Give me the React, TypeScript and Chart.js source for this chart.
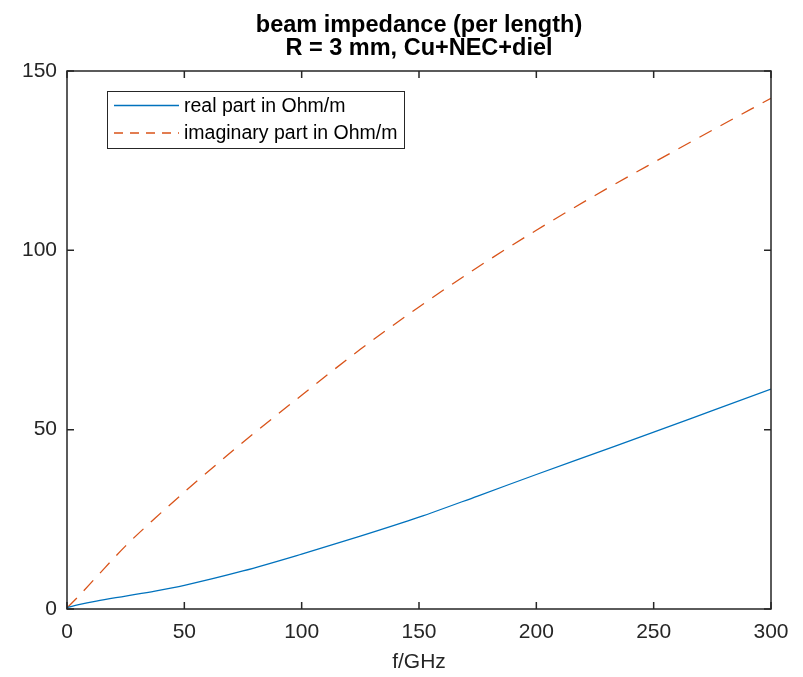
import React, { useEffect, useRef } from "react";
import { Chart, registerables } from "chart.js";

Chart.register(...registerables);

const freqGHz = [0, 5, 12.5, 25, 37.5, 50, 75, 100, 125, 150, 175, 200, 225, 250, 275, 300];
const realPart = [0.4, 1.2, 2.2, 3.6, 5.0, 6.6, 10.6, 15.3, 20.3, 25.6, 31.5, 37.5, 43.4, 49.3, 55.3, 61.3];
const imagPart = [0.3, 3.6, 8.9, 17.6, 25.3, 32.6, 46.5, 59.6, 72.4, 84.2, 95.3, 105.6, 115.3, 124.5, 133.5, 142.4];
const xTicks = [0, 50, 100, 150, 200, 250, 300];
const yTicks = [0, 50, 100, 150];
const titleLines = ["beam impedance (per length)", "R = 3 mm, Cu+NEC+diel"];
const xLabel = "f/GHz";
const seriesNames = ["real part in Ohm/m", "imaginary part in Ohm/m"];

const BLUE = "#0072BD";
const ORANGE = "#D95319";
const AXIS = "#262626";
const FONT = "'Liberation Sans', Arial, Helvetica, sans-serif";

export default function App() {
  const ref = useRef<HTMLCanvasElement | null>(null);

  useEffect(() => {
    if (!ref.current) return;
    const decor = {
      id: "matlabDecor",
      afterDraw(chart: any) {
        const { ctx, chartArea: a, scales } = chart;
        const xs = scales.x;
        const ys = scales.y;
        ctx.save();
        // box
        ctx.strokeStyle = AXIS;
        ctx.lineWidth = 1.5;
        ctx.strokeRect(a.left, a.top, a.right - a.left, a.bottom - a.top);
        // ticks inward
        const tl = 7;
        ctx.beginPath();
        xTicks.forEach((v) => {
          const px = xs.getPixelForValue(v);
          ctx.moveTo(px, a.bottom);
          ctx.lineTo(px, a.bottom - tl);
          ctx.moveTo(px, a.top);
          ctx.lineTo(px, a.top + tl);
        });
        yTicks.forEach((v) => {
          const py = ys.getPixelForValue(v);
          ctx.moveTo(a.left, py);
          ctx.lineTo(a.left + tl, py);
          ctx.moveTo(a.right, py);
          ctx.lineTo(a.right - tl, py);
        });
        ctx.stroke();
        // title
        const cx = (a.left + a.right) / 2;
        ctx.fillStyle = "#000";
        ctx.font = `bold 23.5px ${FONT}`;
        ctx.textAlign = "center";
        ctx.textBaseline = "alphabetic";
        ctx.fillText(titleLines[0], cx, 32);
        ctx.fillText(titleLines[1], cx, 55);
        // x label
        ctx.fillStyle = AXIS;
        ctx.font = `21px ${FONT}`;
        ctx.fillText(xLabel, cx, 668);
        // legend
        const lx = 107, ly = 91, lw = 297, lh = 57;
        ctx.fillStyle = "#fff";
        ctx.fillRect(lx, ly, lw, lh);
        ctx.strokeStyle = AXIS;
        ctx.lineWidth = 1;
        ctx.strokeRect(lx + 0.5, ly + 0.5, lw, lh);
        const rows = [
          { y: 105.5, color: BLUE, dash: [] as number[], name: seriesNames[0] },
          { y: 133, color: ORANGE, dash: [9, 7], name: seriesNames[1] },
        ];
        rows.forEach((r) => {
          ctx.beginPath();
          ctx.setLineDash(r.dash);
          ctx.strokeStyle = r.color;
          ctx.lineWidth = 1.3;
          ctx.moveTo(114, r.y);
          ctx.lineTo(179, r.y);
          ctx.stroke();
          ctx.setLineDash([]);
          ctx.fillStyle = "#000";
          ctx.font = `19.5px ${FONT}`;
          ctx.textAlign = "left";
          ctx.textBaseline = "middle";
          ctx.fillText(r.name, 184, r.y + 1);
        });
        ctx.restore();
      },
    };

    const chart = new Chart(ref.current, {
      type: "line",
      data: {
        datasets: [
          {
            label: seriesNames[0],
            data: freqGHz.map((f, i) => ({ x: f, y: realPart[i] })),
            borderColor: BLUE,
            borderWidth: 1.3,
            pointRadius: 0,
            cubicInterpolationMode: "monotone",
            fill: false,
          },
          {
            label: seriesNames[1],
            data: freqGHz.map((f, i) => ({ x: f, y: imagPart[i] })),
            borderColor: ORANGE,
            borderWidth: 1.3,
            borderDash: [14, 10],
            pointRadius: 0,
            cubicInterpolationMode: "monotone",
            fill: false,
          },
        ],
      },
      options: {
        responsive: false,
        animation: false,
        layout: { padding: { top: 71, right: 32, left: 0, bottom: 0 } },
        plugins: { legend: { display: false }, title: { display: false }, tooltip: { enabled: false } },
        scales: {
          x: {
            type: "linear",
            min: 0,
            max: 300,
            grid: { display: false, drawTicks: false },
            border: { display: false },
            afterBuildTicks: (s: any) => {
              s.ticks = xTicks.map((v) => ({ value: v }));
            },
            afterFit: (s: any) => {
              s.height = 68;
            },
            ticks: { color: AXIS, font: { family: FONT, size: 21 }, padding: 11, maxRotation: 0 },
          },
          y: {
            type: "linear",
            min: 0,
            max: 150,
            grid: { display: false, drawTicks: false },
            border: { display: false },
            afterBuildTicks: (s: any) => {
              s.ticks = yTicks.map((v) => ({ value: v }));
            },
            afterFit: (s: any) => {
              s.width = 67;
            },
            ticks: { color: AXIS, font: { family: FONT, size: 21 }, padding: 10 },
          },
        },
      } as any,
      plugins: [decor],
    });
    return () => chart.destroy();
  }, []);

  return (
    <div style={{ position: "fixed", left: 0, top: 0, width: 803, height: 677, background: "#fff" }}>
      <canvas ref={ref} width={803} height={677} />
    </div>
  );
}
